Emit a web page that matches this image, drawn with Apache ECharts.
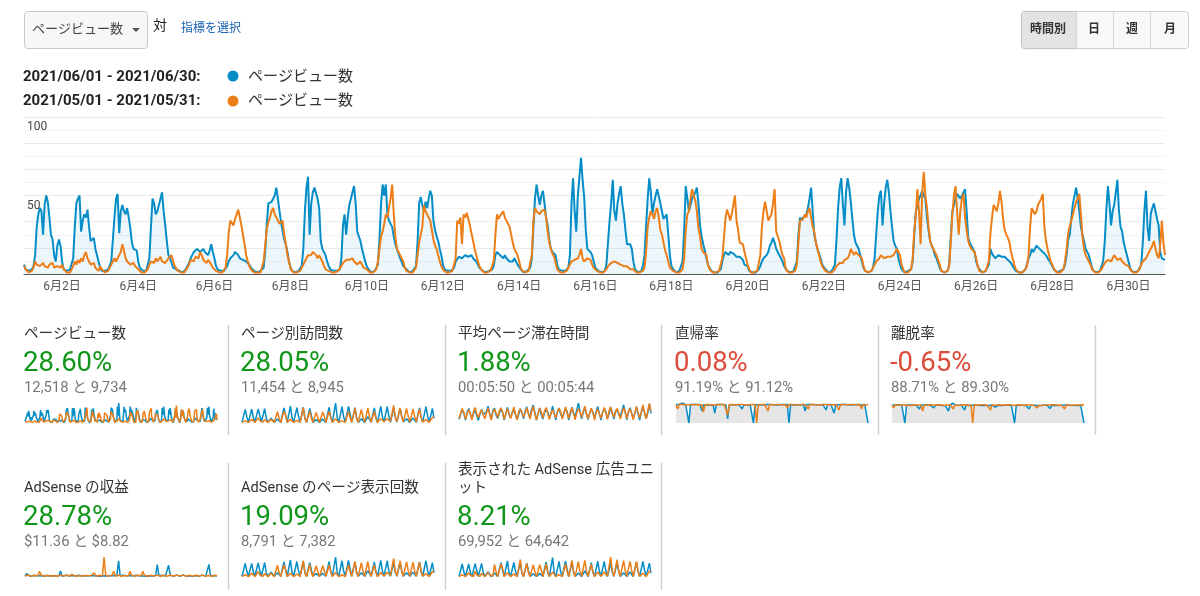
<!DOCTYPE html>
<html>
<head>
<meta charset="utf-8">
<script src="https://cdn.jsdelivr.net/npm/echarts@6/dist/echarts.min.js"></script>
<style>
  html, body { margin: 0; padding: 0; background: #fff; overflow: hidden; }
  #page { width: 1200px; height: 596px; }
</style>
</head>
<body>
<div id="page"></div>
<script>
// x axis tick labels (every other day)
const tickLabels = ['6月2日', '6月4日', '6月6日', '6月8日', '6月10日', '6月12日', '6月14日', '6月16日',
  '6月18日', '6月20日', '6月22日', '6月24日', '6月26日', '6月28日', '6月30日']

// hourly page views, 2021/06/01 - 06/30 (one row per day, hour 0..23)
const juneViews = [
  6,3,2,2,2,3,5,12,30,38,42,40,25,44,50,46,36,25,22,12,8,18,22,18,
  8,3,2,2,2,3,4,10,30,45,48,50,27,34,38,36,41,30,21,20,23,16,12,8,
  4,2,2,2,2,3,4,8,22,36,48,51,26,40,44,40,38,42,36,29,20,16,15,15,
  8,4,3,2,2,2,3,10,30,48,45,38,40,44,48,52,40,31,21,12,10,7,4,3,
  3,2,2,2,1,2,3,5,7,10,12,14,13,16,15,14,13,16,14,14,12,15,19,14,
  10,5,3,2,2,2,2,3,5,8,10,11,12,14,15,12,10,9,9,8,8,7,6,4,
  3,2,2,1,1,2,2,4,14,32,45,44,46,45,50,55,48,40,33,27,22,19,14,8,
  4,2,2,1,1,2,2,5,16,40,55,62,25,45,52,55,55,48,42,21,16,14,12,8,
  5,3,2,2,1,2,2,3,10,31,38,25,36,44,48,52,56,45,27,24,21,16,12,8,
  5,3,2,1,1,2,2,6,22,45,57,50,57,38,34,33,30,24,19,16,13,10,8,5,
  4,3,2,1,1,2,2,5,20,45,49,44,40,46,42,48,53,50,34,28,24,21,16,12,
  6,3,2,2,1,2,2,4,8,9,11,12,10,11,12,12,11,10,12,10,9,8,6,4,
  4,2,2,1,1,2,2,3,5,12,14,13,12,11,10,12,10,9,8,9,8,10,10,6,
  5,3,2,1,1,2,2,4,10,30,48,57,50,44,50,53,45,36,31,22,16,14,13,12,
  6,3,2,2,1,2,2,4,12,45,61,40,27,50,62,74,60,49,28,16,15,14,12,8,
  4,3,2,1,1,2,2,6,20,34,45,60,40,34,45,51,56,45,38,28,19,18,19,16,
  8,3,2,1,1,2,5,12,30,48,61,52,38,45,50,54,55,45,40,35,34,38,25,12,
  5,3,2,1,1,2,2,8,28,56,48,40,44,48,50,52,55,45,31,24,19,15,10,6,
  4,2,2,1,1,1,2,3,8,12,14,13,12,14,15,13,12,11,10,11,10,9,6,5,
  5,2,2,1,1,1,2,3,5,8,10,11,12,14,18,20,23,20,16,14,12,10,8,5,
  4,2,2,1,1,2,2,8,25,36,34,36,37,38,42,48,55,40,25,20,16,13,10,6,
  5,3,2,1,1,2,2,6,22,42,55,61,45,31,52,61,55,46,35,25,20,18,16,12,
  8,4,2,1,1,2,2,4,10,25,40,50,53,31,45,55,60,52,40,30,21,18,16,10,
  6,3,2,1,1,2,2,3,8,25,40,44,48,50,53,50,48,36,28,21,18,16,12,10,
  10,4,2,1,1,2,2,6,24,40,44,48,51,50,48,50,52,54,40,23,20,18,16,14,
  8,5,3,2,1,2,2,3,6,16,13,12,10,11,12,12,11,10,11,10,9,8,7,5,
  4,2,2,1,1,1,2,3,6,10,12,16,14,16,18,19,16,15,14,14,12,10,9,7,
  5,3,2,1,1,2,2,3,6,12,22,25,36,45,50,55,48,40,30,25,21,16,14,12,
  8,4,2,1,1,2,2,3,8,20,40,56,45,31,40,44,52,60,40,30,27,20,16,12,
  8,4,2,1,1,2,2,3,6,20,40,53,30,21,38,42,45,40,35,31,14,10,9,9
]

// hourly page views, 2021/05/01 - 05/30 (compared period)
const mayViews = [
  5,3,2,1,1,2,4,8,6,7,5,6,7,5,6,4,6,5,7,4,3,5,6,4,
  6,3,2,1,1,1,3,5,8,6,9,7,10,8,12,14,10,8,6,5,7,4,3,2,
  5,3,2,1,1,2,3,6,8,10,8,9,12,14,19,15,10,8,9,6,5,7,5,4,
  3,2,1,1,1,2,3,6,8,9,7,10,8,9,11,8,9,7,8,10,9,12,8,5,
  4,2,2,1,1,1,2,4,6,9,10,8,11,12,10,14,12,9,8,7,9,8,6,4,
  3,2,1,1,1,1,2,4,12,26,34,33,31,35,38,41,36,31,25,19,12,8,5,3,
  2,1,1,1,1,1,2,8,18,29,33,36,40,42,38,36,34,32,33,34,25,19,12,8,
  3,2,1,1,1,1,2,3,6,8,10,12,13,12,14,13,12,10,12,10,8,5,3,2,
  2,1,1,1,1,1,2,3,5,7,8,9,8,9,10,10,8,7,6,7,8,6,4,3,
  3,2,1,1,1,1,3,8,16,24,27,32,38,36,42,48,57,38,24,16,14,12,12,8,
  4,2,1,1,1,1,2,4,12,20,21,30,44,40,38,36,34,28,22,18,16,12,8,5,
  3,2,1,1,1,1,2,3,10,34,32,36,19,38,36,39,35,31,26,21,16,12,8,5,
  3,2,1,1,1,1,2,3,8,24,38,35,37,38,40,36,34,32,30,29,20,16,14,12,
  8,4,2,1,1,1,2,3,12,34,42,40,41,38,40,39,41,36,27,20,16,13,11,10,
  3,2,1,1,1,1,2,4,6,8,8,9,8,10,12,16,10,8,9,10,10,9,6,4,
  3,2,1,1,1,1,2,3,5,6,7,6,8,8,7,7,6,5,5,4,5,4,3,3,
  3,2,1,1,1,1,2,4,14,30,36,40,38,35,40,42,36,28,25,20,15,12,8,4,
  3,2,1,1,1,1,2,3,10,28,38,40,48,54,50,47,40,29,24,16,14,13,12,6,
  3,2,1,1,1,1,2,3,10,22,35,41,38,34,38,44,50,34,28,20,19,19,14,10,
  6,3,1,1,1,1,2,3,12,30,40,46,40,34,36,38,45,54,27,24,21,16,12,10,
  3,2,1,1,1,1,2,6,20,34,33,35,38,36,40,42,36,30,27,20,16,12,8,5,
  4,2,1,1,1,1,2,3,5,6,7,8,7,9,10,10,12,16,14,12,14,13,12,12,
  10,5,2,1,1,1,2,3,6,8,8,10,12,11,10,10,11,12,11,11,12,14,16,14,
  12,6,3,1,1,1,2,3,10,28,38,54,40,19,52,65,50,42,30,21,18,16,14,12,
  12,6,2,1,1,1,2,5,20,38,50,56,40,25,40,48,51,36,28,21,18,16,15,14,
  10,5,2,1,1,1,2,3,8,26,36,44,42,40,45,53,46,35,28,25,23,20,14,10,
  6,3,2,1,1,1,2,3,5,12,30,42,40,38,40,44,46,48,51,30,21,16,12,8,
  6,3,2,1,1,1,2,3,8,16,26,31,34,38,42,46,48,51,38,24,16,12,10,8,
  6,3,2,1,1,1,2,3,5,7,8,9,10,8,10,12,11,9,10,10,8,7,6,5,
  5,3,2,1,1,1,2,3,6,8,8,10,12,14,16,18,21,16,12,10,18,34,20,12
]

// sparklines: 4 readings per day (night, morning, midday, evening)
const uniqueJune = [
  3,4,45,20, 3,4,46,19, 3,4,46,26, 3,4,47,18, 2,3,16,13,
  3,3,13,8, 2,3,50,25, 2,3,56,18, 2,3,51,22, 2,3,52,15,
  2,3,48,25, 2,3,11,9, 2,3,13,8, 2,3,52,18, 2,3,66,17,
  2,3,54,20, 3,4,55,30, 2,3,51,20, 2,3,14,9, 2,3,21,13,
  2,3,50,18, 2,3,55,22, 3,3,54,24, 2,3,48,20, 3,3,49,22,
  3,3,14,9, 2,3,17,12, 2,3,50,22, 3,3,54,25, 3,3,48,15
]
const uniqueMay = [
  2,3,7,5, 2,3,12,6, 2,3,17,7, 2,3,11,8, 2,3,12,7,
  2,3,37,16, 1,3,38,28, 2,3,12,9, 2,3,9,6, 2,3,51,14,
  2,3,40,15, 2,3,35,18, 2,3,36,22, 3,3,38,18, 2,3,14,9,
  2,3,7,4, 2,3,38,18, 2,3,48,15, 2,3,45,18, 3,3,49,20,
  2,3,38,16, 2,3,14,12, 4,3,14,11, 5,3,58,18, 5,3,50,19,
  4,3,48,22, 3,3,46,22, 3,3,46,18, 3,3,11,9, 2,3,18,20
]
// average time on page, seconds
const timeJune = [
  120,260,410,300, 90,330,450,280, 150,300,390,340, 80,280,420,260, 200,350,520,300,
  110,380,460,240, 140,310,430,330, 90,290,480,270, 160,320,400,350, 100,270,440,310,
  130,360,500,290, 180,420,560,330, 90,300,470,250, 120,330,410,340, 150,290,520,300,
  100,350,460,280, 170,310,430,360, 90,280,490,300, 210,400,620,350, 130,340,470,280,
  110,300,440,320, 160,350,510,290, 90,320,450,340, 140,290,480,300, 120,360,430,270,
  200,380,560,340, 100,330,470,310, 150,300,500,280, 90,340,460,330, 130,310,590,300
]
const timeMay = [
  150,300,450,330, 120,280,420,310, 100,350,480,290, 160,320,400,340, 130,300,460,280,
  90,340,430,310, 170,380,470,350, 110,290,440,300, 140,320,500,270, 100,360,430,330,
  180,300,470,310, 120,340,520,290, 90,310,450,350, 150,370,480,300, 110,300,420,280,
  160,330,460,340, 120,290,500,310, 140,350,470,290, 100,320,440,330, 170,360,520,300,
  130,300,460,320, 90,340,430,280, 150,310,480,340, 110,370,500,300, 180,330,450,310,
  120,300,470,350, 140,360,440,290, 100,320,510,330, 160,340,560,310, 130,380,600,360
]
// bounce rate, %
const bounceJune = [
  92,90,93,91, 100,91,92,90, 0,92,91,93, 91,93,90,92, 60,91,93,90,
  92,90,94,91, 50,92,90,93, 91,93,92,90, 20,90,92,91, 93,91,100,92,
  92,70,91,93, 90,92,91,93, 0,91,93,90, 92,90,93,91, 91,93,90,92,
  93,91,92,90, 90,92,91,93, 91,93,0,92, 92,90,93,91, 93,91,92,90,
  60,92,91,93, 90,93,92,91, 92,91,90,93, 91,65,93,90, 93,92,50,91,
  90,91,93,92, 92,93,90,91, 91,90,92,93, 93,92,91,90, 90,93,92,0
]
const bounceMay = [
  91,70,93,92, 93,92,90,91, 90,91,93,92, 92,93,91,90, 91,55,92,93,
  93,92,90,91, 90,100,92,91, 92,91,93,90, 40,92,91,93, 91,90,92,93,
  93,92,91,90, 90,91,93,92, 92,93,0,91, 91,92,90,93, 93,60,92,91,
  90,92,93,91, 92,91,90,93, 91,75,92,90, 93,92,91,92, 90,93,92,91,
  92,91,70,93, 91,92,93,90, 93,90,91,92, 92,93,90,91, 90,91,92,93,
  91,65,93,92, 93,92,91,90, 92,90,93,91, 90,93,92,70, 92,91,90,93
]
// exit rate, %
const exitJune = [
  89,87,90,88, 91,88,89,87, 0,89,88,90, 88,90,87,89, 89,70,90,87,
  90,88,91,89, 87,89,75,90, 88,90,89,87, 89,87,90,60, 90,88,100,89,
  87,89,88,90, 89,65,90,88, 88,90,89,87, 90,87,88,89, 89,91,87,88,
  87,88,90,89, 80,90,88,87, 88,87,89,90, 89,90,87,88, 0,88,90,89,
  90,89,88,87, 87,70,89,90, 89,88,87,89, 88,90,89,87, 90,87,72,88,
  89,88,90,87, 87,89,88,90, 88,90,87,89, 90,88,89,88, 89,87,90,0
]
const exitMay = [
  90,75,91,89, 89,91,90,88, 91,90,88,90, 88,89,91,90, 90,91,89,60,
  89,88,90,91, 91,100,89,88, 90,89,91,90, 88,91,90,89, 91,90,70,90,
  89,88,91,90, 90,91,89,88, 91,90,0,91, 88,89,90,91, 90,91,88,89,
  91,65,90,88, 89,90,91,90, 90,91,89,88, 91,89,90,91, 88,90,91,89,
  90,89,88,91, 91,90,89,90, 89,91,75,88, 90,88,91,90, 91,90,89,91,
  88,91,90,89, 90,89,91,70, 91,90,88,90, 89,91,90,89, 90,88,91,90
]
// AdSense revenue, USD
const revJune = [
  0.04,0.18,0.08,0.05, 0.03,0.08,0.10,0.06, 0.04,0.07,0.09,0.05, 0.03,0.08,0.10,0.06, 0.03,0.06,0.08,0.05,
  0.03,0.05,0.32,0.04, 0.04,0.09,0.10,0.06, 0.03,0.08,0.11,0.05, 0.04,0.09,0.10,0.06, 0.03,0.07,0.10,0.05,
  0.04,0.08,0.09,0.06, 0.03,0.05,0.07,0.04, 0.03,0.06,0.07,0.05, 0.04,0.08,0.12,0.06, 0.03,0.09,0.85,0.06,
  0.04,0.10,0.11,0.05, 0.03,0.08,0.10,0.06, 0.04,0.09,0.10,0.05, 0.03,0.05,0.07,0.04, 0.03,0.06,0.08,0.05,
  0.04,0.08,0.65,0.06, 0.03,0.09,0.11,0.05, 0.04,0.62,0.10,0.06, 0.03,0.08,0.10,0.05, 0.04,0.09,0.11,0.06,
  0.03,0.05,0.07,0.04, 0.03,0.06,0.08,0.05, 0.04,0.08,0.10,0.06, 0.03,0.09,0.66,0.05, 0.04,0.08,0.10,0.05
]
const revMay = [
  0.05,0.08,0.10,0.06, 0.04,0.07,0.09,0.05, 0.05,0.30,0.10,0.06, 0.04,0.08,0.09,0.05, 0.04,0.07,0.08,0.05,
  0.04,0.08,0.10,0.05, 0.05,0.09,0.10,0.06, 0.04,0.15,0.09,0.05, 0.04,0.07,0.08,0.05, 0.05,0.08,0.10,0.06,
  0.05,0.08,0.10,0.22, 0.04,0.07,0.09,0.05, 0.05,1.05,0.10,0.06, 0.04,0.08,0.10,0.30, 0.04,0.07,0.09,0.05,
  0.04,0.07,0.08,0.05, 0.05,0.30,0.10,0.06, 0.04,0.08,0.10,0.05, 0.05,0.30,0.10,0.06, 0.04,0.08,0.09,0.05,
  0.05,0.08,0.10,0.06, 0.04,0.07,0.09,0.05, 0.04,0.08,0.09,0.05, 0.05,0.09,0.10,0.06, 0.05,0.08,0.10,0.06,
  0.04,0.08,0.09,0.05, 0.04,0.07,0.09,0.05, 0.05,0.08,0.10,0.06, 0.04,0.07,0.08,0.05, 0.04,0.08,0.09,0.05
]
// AdSense page impressions
const adPvJune = [
  2,3,36,15, 2,3,36,14, 2,3,37,18, 2,3,38,12, 2,2,13,9,
  2,2,11,6, 2,2,40,18, 2,2,45,13, 2,2,41,16, 2,2,41,11,
  2,2,38,18, 2,2,9,6, 2,2,10,6, 2,2,41,13, 2,2,53,12,
  2,2,43,15, 2,3,44,22, 2,2,40,14, 2,2,11,7, 2,2,16,10,
  2,2,40,13, 2,2,44,16, 2,2,43,17, 2,2,38,14, 2,2,39,16,
  2,2,11,7, 2,2,13,9, 2,2,40,16, 2,2,43,18, 2,2,38,11
]
const adPvMay = [
  1,2,6,4, 1,2,10,5, 1,2,14,6, 1,2,9,6, 1,2,10,5,
  1,2,31,12, 1,2,32,21, 1,2,10,7, 1,2,8,5, 1,2,43,11,
  1,2,33,11, 1,2,30,14, 1,2,30,17, 2,2,32,14, 1,2,12,7,
  1,2,6,3, 1,2,32,14, 1,2,41,11, 1,2,38,14, 2,2,41,15,
  1,2,32,12, 1,2,12,9, 3,2,12,8, 4,2,49,14, 4,2,43,14,
  3,2,40,17, 2,2,39,16, 2,2,39,14, 2,2,9,7, 1,2,14,15
]
// AdSense ad units viewed
const adUnitsJune = [
  12,18,280,112, 12,18,280,106, 12,18,286,146, 12,18,291,100, 10,14,106,78,
  10,12,84,45, 10,14,308,140, 10,14,347,101, 10,14,314,123, 10,14,319,84,
  10,14,297,140, 10,12,67,50, 10,12,78,45, 10,14,319,101, 10,14,414,95,
  10,14,336,112, 12,18,342,168, 10,14,314,112, 10,12,84,50, 10,12,129,73,
  10,14,308,101, 10,14,342,123, 12,14,336,134, 10,14,297,112, 12,14,302,123,
  12,12,90,50, 10,12,106,67, 10,14,308,123, 12,14,336,140, 12,14,297,84
]
const adUnitsMay = [
  8,12,53,33, 8,12,92,40, 8,12,125,46, 8,12,79,53, 8,12,92,46,
  8,12,271,106, 7,12,277,185, 8,12,92,59, 8,12,66,40, 8,12,376,92,
  8,12,290,99, 8,12,257,119, 8,12,264,145, 12,12,277,119, 8,12,106,59,
  8,12,53,26, 8,12,277,119, 8,12,356,99, 8,12,330,119, 12,12,356,132,
  8,12,277,106, 8,12,106,79, 16,12,106,73, 20,12,429,119, 20,12,370,125,
  16,12,350,145, 12,12,337,145, 12,12,337,119, 12,12,79,59, 8,12,125,132
]

const blue = '#058dc7'
const orange = '#ed7e17'
const green = '#109618'
const red = '#dd4b39'
const font = 'Roboto, "Noto Sans CJK JP", sans-serif'

const tiles = [
  { title: 'ページビュー数', change: '28.60%', good: true, totals: '12,518 と 9,734', cur: juneViews, prev: mayViews },
  { title: 'ページ別訪問数', change: '28.05%', good: true, totals: '11,454 と 8,945', cur: uniqueJune, prev: uniqueMay },
  { title: '平均ページ滞在時間', change: '1.88%', good: true, totals: '00:05:50 と 00:05:44', cur: timeJune, prev: timeMay },
  { title: '直帰率', change: '0.08%', good: false, totals: '91.19% と 91.12%', cur: bounceJune, prev: bounceMay, fill: true },
  { title: '離脱率', change: '-0.65%', good: false, totals: '88.71% と 89.30%', cur: exitJune, prev: exitMay, fill: true },
  { title: 'AdSense の収益', change: '28.78%', good: true, totals: '$11.36 と $8.82', cur: revJune, prev: revMay },
  { title: 'AdSense のページ表示回数', change: '19.09%', good: true, totals: '8,791 と 7,382', cur: adPvJune, prev: adPvMay },
  { title: '表示された AdSense 広告ユニ\nット', change: '8.21%', good: true, totals: '69,952 と 64,642', cur: adUnitsJune, prev: adUnitsMay }
]

// layout
const tileX = [24, 241, 458, 675, 891, 24, 241, 458]
const rows = [
  { title: 343, change: 364, totals: 388, spark: 403 },
  { title: 497, change: 518, totals: 542, spark: 557 }
]

const grids = [{ left: 24, top: 117, width: 1141, height: 157 }]
const xAxes = [{
  gridIndex: 0, type: 'category', boundaryGap: false,
  data: juneViews.map((v, i) => i),
  axisLine: { lineStyle: { color: '#555', width: 1 } },
  axisTick: { show: false },
  axisLabel: {
    interval: (i) => i % 48 === 24,
    formatter: (v, i) => tickLabels[(i - 24) / 48],
    color: '#555', fontSize: 12, fontFamily: font, margin: 7
  },
  splitLine: { show: false }
}]
const yAxes = [{
  gridIndex: 0, type: 'value', min: 0, max: 100, interval: 100 / 6,
  axisLine: { show: false }, axisTick: { show: false },
  minorTick: { show: false, splitNumber: 2 },
  splitLine: { lineStyle: { color: '#eaeaea', width: 1 } },
  minorSplitLine: { show: true, lineStyle: { color: '#f3f3f3', width: 1 } },
  axisLabel: {
    inside: true, margin: 3, verticalAlign: 'top', padding: [4, 0, 0, 0],
    color: '#444', fontSize: 12, fontFamily: font,
    formatter: (v) => { const r = Math.round(v); return (r === 50 || r === 100) ? String(r) : '' }
  }
}]
const series = [
  { type: 'line', xAxisIndex: 0, yAxisIndex: 0, data: juneViews, symbol: 'none', z: 2,
    lineStyle: { color: blue, width: 2 }, itemStyle: { color: blue },
    areaStyle: { color: 'rgba(5,141,199,0.1)' } },
  { type: 'line', xAxisIndex: 0, yAxisIndex: 0, data: mayViews, symbol: 'none', z: 3,
    lineStyle: { color: orange, width: 2 }, itemStyle: { color: orange } }
]

const graphic = []
const txt = (x, y, text, size, color, extra) => graphic.push({
  type: 'text', x: x, y: y, silent: true,
  style: Object.assign({ text: text, fontSize: size, fontFamily: font, fill: color, verticalAlign: 'middle' }, extra || {})
})

// metric picker
graphic.push({ type: 'rect', shape: { x: 24.5, y: 11.5, width: 123, height: 37, r: 3 },
  style: { fill: '#f7f7f7', stroke: '#c8c8c8', lineWidth: 1 } })
txt(32, 30, 'ページビュー数', 13, '#444')
graphic.push({ type: 'polygon', shape: { points: [[132, 28], [140, 28], [136, 32]] }, style: { fill: '#555' } })
txt(153, 26, '対', 14, '#222')
txt(181, 29, '指標を選択', 12, '#1b64b4')

// granularity buttons
graphic.push({ type: 'rect', shape: { x: 1021.5, y: 11.5, width: 167, height: 37, r: 3 },
  style: { fill: '#f8f8f8', stroke: '#cfcfcf', lineWidth: 1 } })
graphic.push({ type: 'rect', shape: { x: 1022, y: 12, width: 54, height: 36, r: [3, 0, 0, 3] },
  style: { fill: '#e3e3e3', shadowColor: 'rgba(0,0,0,0.15)', shadowBlur: 3 } })
;[1076, 1113, 1150].forEach(x => graphic.push({ type: 'line', shape: { x1: x + 0.5, y1: 12, x2: x + 0.5, y2: 48 },
  style: { stroke: '#d6d6d6', lineWidth: 1 } }))
;[['時間別', 1048], ['日', 1094], ['週', 1132], ['月', 1170]].forEach(b =>
  txt(b[1], 30, b[0], 12, '#333', { fontWeight: 'bold', align: 'center' }))

// period legend
txt(23, 77, '2021/06/01 - 2021/06/30:', 15, '#222', { fontWeight: 'bold' })
txt(23, 101, '2021/05/01 - 2021/05/31:', 15, '#222', { fontWeight: 'bold' })
graphic.push({ type: 'circle', shape: { cx: 233, cy: 76, r: 5.5 }, style: { fill: blue } })
graphic.push({ type: 'circle', shape: { cx: 233, cy: 101, r: 5.5 }, style: { fill: orange } })
txt(248, 77, 'ページビュー数', 15, '#333')
txt(248, 101, 'ページビュー数', 15, '#333')

// separators between tiles
;[228, 445, 661, 878, 1095].forEach(x => graphic.push({ type: 'line',
  shape: { x1: x + 0.5, y1: 325, x2: x + 0.5, y2: 435 }, style: { stroke: '#d0d0d0', lineWidth: 1.5 } }))
;[228, 445, 661].forEach(x => graphic.push({ type: 'line',
  shape: { x1: x + 0.5, y1: 463, x2: x + 0.5, y2: 590 }, style: { stroke: '#d0d0d0', lineWidth: 1.5 } }))

tiles.forEach((t, k) => {
  const x = tileX[k]
  const row = rows[k < 5 ? 0 : 1]
  txt(x, row.title, t.title, 14.6, '#333', { verticalAlign: 'bottom', lineHeight: 18 })
  txt(x - 1, row.change, t.change, 27.5, t.good ? green : red)
  txt(x, row.totals, t.totals, 14.8, '#777')

  const g = grids.length
  grids.push({ left: x + 1, top: row.spark, width: 192, height: 20 })
  xAxes.push({ gridIndex: g, type: 'category', boundaryGap: false, show: false, data: t.cur.map((v, i) => i) })
  yAxes.push({ gridIndex: g, type: 'value', show: false, min: 0, max: 'dataMax', splitLine: { show: false } })
  series.push({ type: 'line', xAxisIndex: g, yAxisIndex: g, data: t.cur, symbol: 'none', z: 2,
    lineStyle: { color: blue, width: 1.5 }, itemStyle: { color: blue },
    areaStyle: t.fill ? { color: '#e6e6e6', opacity: 1 } : undefined })
  series.push({ type: 'line', xAxisIndex: g, yAxisIndex: g, data: t.prev, symbol: 'none', z: 3,
    lineStyle: { color: orange, width: 1.5 }, itemStyle: { color: orange } })
})

const chart = echarts.init(document.getElementById('page'), null, { renderer: 'canvas' })
chart.setOption({
  backgroundColor: '#fff',
  animation: false,
  textStyle: { fontFamily: font },
  grid: grids,
  xAxis: xAxes,
  yAxis: yAxes,
  series: series,
  graphic: graphic
})
</script>
</body>
</html>
